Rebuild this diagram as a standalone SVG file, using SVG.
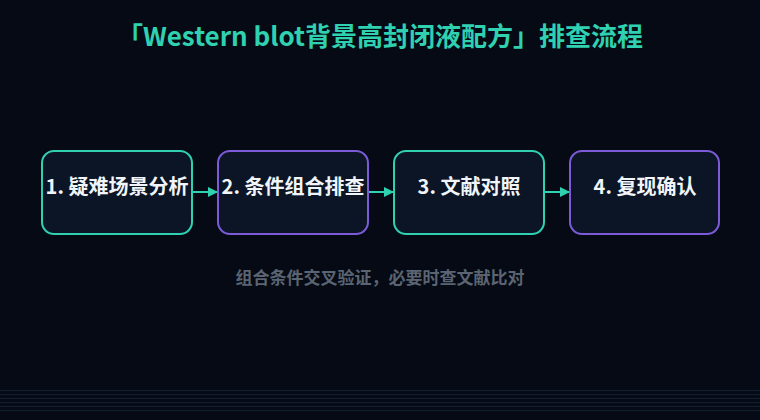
<svg xmlns="http://www.w3.org/2000/svg" width="760" height="420" viewBox="0 0 760 420">
<defs>
<style>
.bg{fill:#050a14}
.node rect{fill:#0b1526;stroke-width:2}
.teal rect{stroke:#2fd1b0}
.purple rect{stroke:#7c5ad8}
.label{font-family:"Noto Sans CJK SC","Noto Sans",sans-serif;font-weight:700;font-size:20px;fill:#f1f5f9;text-anchor:middle}
.title{font-family:"Noto Sans CJK SC","Noto Sans",sans-serif;font-weight:700;font-size:26px;fill:#2fd1b0;text-anchor:middle}
.caption{font-family:"Noto Sans CJK SC","Noto Sans",sans-serif;font-weight:700;font-size:17px;fill:#5b6472;text-anchor:middle}
.conn line{stroke:#2fd1b0;stroke-width:2}
.grid line{stroke:#0f2030;stroke-width:1}
</style>
<marker id="arr" viewBox="0 0 10 10" refX="9" refY="5" markerWidth="5" markerHeight="5" orient="auto" markerUnits="strokeWidth">
<path d="M0,0 L10,5 L0,10 z" fill="#2fd1b0"/>
</marker>
</defs>
<rect class="bg" x="0" y="0" width="760" height="420"/>
<g class="grid">
<line x1="0" y1="390.5" x2="760" y2="390.5"/>
<line x1="0" y1="394.5" x2="760" y2="394.5"/>
<line x1="0" y1="398.5" x2="760" y2="398.5"/>
<line x1="0" y1="402.5" x2="760" y2="402.5"/>
<line x1="0" y1="406.5" x2="760" y2="406.5"/>
<line x1="0" y1="410.5" x2="760" y2="410.5"/>
</g>
<text class="title" x="380" y="46">「Western blot背景高封闭液配方」排查流程</text>
<g class="conn">
<line x1="193" y1="192" x2="217" y2="192" marker-end="url(#arr)"/>
<line x1="369" y1="192" x2="393" y2="192" marker-end="url(#arr)"/>
<line x1="545" y1="192" x2="569" y2="192" marker-end="url(#arr)"/>
</g>
<g id="node1" class="node teal">
<rect x="42" y="151" width="150" height="83" rx="12"/>
<text class="label" x="117" y="194">1. 疑难场景分析</text>
</g>
<g id="node2" class="node purple">
<rect x="218" y="151" width="150" height="83" rx="12"/>
<text class="label" x="293" y="194">2. 条件组合排查</text>
</g>
<g id="node3" class="node teal">
<rect x="394" y="151" width="150" height="83" rx="12"/>
<text class="label" x="469" y="194">3. 文献对照</text>
</g>
<g id="node4" class="node purple">
<rect x="570" y="151" width="149" height="83" rx="12"/>
<text class="label" x="645" y="194">4. 复现确认</text>
</g>
<text class="caption" x="380" y="284">组合条件交叉验证，必要时查文献比对</text>
</svg>
